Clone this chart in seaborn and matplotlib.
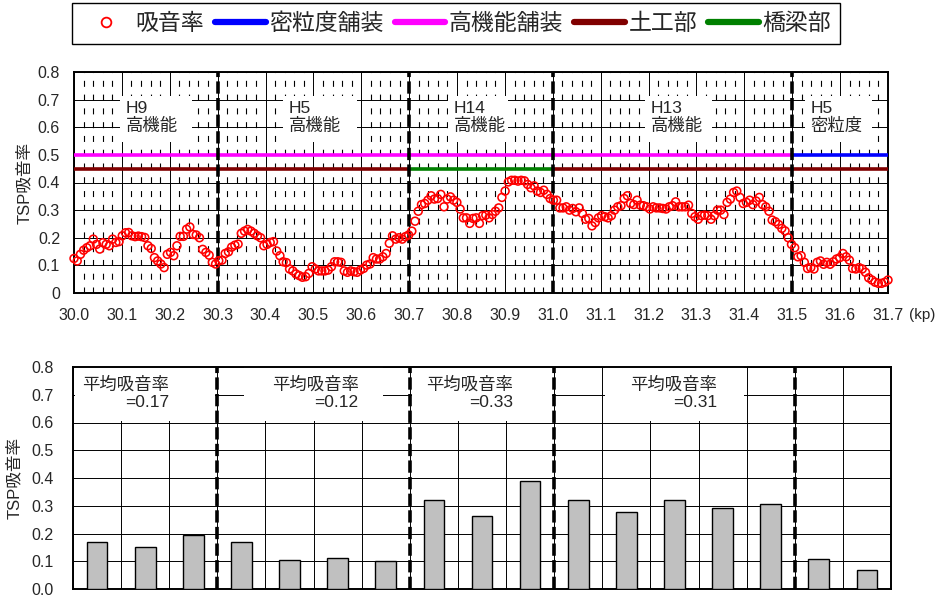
import numpy as np
import matplotlib
matplotlib.use("Agg")
import matplotlib.pyplot as plt
from matplotlib.lines import Line2D
from matplotlib.patches import Rectangle
import seaborn as sns

absorb_west = [  # kp 30.00 - 30.57
    0.125, 0.116, 0.140, 0.155, 0.164, 0.171, 0.195, 0.176, 0.159, 0.182,
    0.176, 0.171, 0.195, 0.183, 0.186, 0.207, 0.218, 0.219, 0.207, 0.204,
    0.206, 0.204, 0.201, 0.171, 0.161, 0.128, 0.116, 0.105, 0.092, 0.140,
    0.147, 0.135, 0.171, 0.205, 0.205, 0.231, 0.239, 0.212, 0.210, 0.200,
    0.158, 0.147, 0.137, 0.111, 0.105,
    0.117, 0.119, 0.143, 0.149, 0.166, 0.173, 0.177, 0.216, 0.224, 0.230,
    0.224, 0.216, 0.207, 0.200, 0.171, 0.176, 0.183, 0.186, 0.152, 0.135,
    0.113, 0.110, 0.087, 0.080, 0.069, 0.063, 0.057, 0.059, 0.071, 0.095,
    0.087, 0.080, 0.080, 0.080, 0.083, 0.095, 0.113, 0.113, 0.111,
]
absorb_mid = [  # kp 30.57 - 31.13
    0.080, 0.075, 0.080, 0.077, 0.075, 0.083, 0.089, 0.101, 0.105, 0.128,
    0.123, 0.123, 0.131, 0.143, 0.180, 0.207, 0.195, 0.200,
    0.195, 0.204, 0.210, 0.224, 0.260, 0.296, 0.320, 0.324, 0.336, 0.352,
    0.340, 0.342, 0.357, 0.312, 0.340, 0.348, 0.336, 0.328, 0.304, 0.272,
    0.272, 0.252, 0.270, 0.272, 0.252, 0.280, 0.282, 0.272, 0.284, 0.296,
    0.308, 0.346, 0.369, 0.402, 0.408, 0.408, 0.405, 0.408, 0.406, 0.393,
    0.381, 0.388, 0.369, 0.364, 0.372, 0.357, 0.342,
    0.336, 0.336, 0.308, 0.308, 0.312, 0.300, 0.306, 0.294, 0.308, 0.288,
    0.267, 0.270, 0.243, 0.255, 0.272, 0.280, 0.276, 0.272, 0.280,
]
absorb_east = [  # kp 31.13 - 31.70
    0.300, 0.312, 0.316, 0.342, 0.352, 0.324, 0.320, 0.336, 0.318, 0.316,
    0.312, 0.304, 0.312, 0.308, 0.308, 0.306, 0.304, 0.312, 0.316, 0.330,
    0.312, 0.312, 0.312, 0.318, 0.288, 0.276, 0.267, 0.280, 0.282, 0.280,
    0.267, 0.280, 0.300, 0.300, 0.284, 0.328, 0.340, 0.364, 0.369, 0.346,
    0.324, 0.328, 0.336, 0.320, 0.333, 0.346, 0.320, 0.312, 0.296, 0.264,
    0.258, 0.248, 0.234, 0.225, 0.200, 0.176,
    0.164, 0.131, 0.135, 0.111, 0.089, 0.092, 0.087, 0.111, 0.116, 0.104,
    0.111, 0.104, 0.113, 0.123, 0.128, 0.143, 0.131, 0.119, 0.089, 0.087,
    0.092, 0.087, 0.075, 0.055, 0.047, 0.039, 0.035, 0.035, 0.039, 0.047,
]

kp_start, kp_end = 30.0, 31.7

# target levels per pavement / structure type
high_perf_level = 0.50
dense_level = 0.50
earth_level = 0.45
bridge_level = 0.45
high_perf_span = (30.0, 31.5)
dense_span = (31.5, 31.7)
earth_spans = [(30.0, 30.7), (31.0, 31.7)]
bridge_spans = [(30.7, 31.0)]

section_breaks = [30.3, 30.7, 31.0, 31.5]
section_names = ["H9\n高機能", "H5\n高機能", "H14\n高機能", "H13\n高機能", "H5\n密粒度"]

# 100 m averages
bar_kp = ["30.0", "30.1", "30.2", "30.3", "30.4", "30.5", "30.6", "30.7", "30.8",
          "30.9", "31.0", "31.1", "31.2", "31.3", "31.4", "31.5", "31.6"]
bar_values = [0.170, 0.150, 0.195, 0.170, 0.103, 0.113, 0.100, 0.321, 0.264,
              0.388, 0.321, 0.279, 0.321, 0.292, 0.308, 0.108, 0.070]
avg_texts = ["平均吸音率\n=0.17", "平均吸音率\n=0.12", "平均吸音率\n=0.33", "平均吸音率\n=0.31"]

top_yticklabels = ["0", "0.1", "0.2", "0.3", "0.4", "0.5", "0.6", "0.7", "0.8"]
bot_yticklabels = ["0.0", "0.1", "0.2", "0.3", "0.4", "0.5", "0.6", "0.7", "0.8"]

# colours
MAGENTA, BLUE, MAROON, GREEN = "#ff00ff", "#0000ff", "#800000", "#008000"

sns.set_style("white")
FONTS = ["Liberation Sans", "Noto Sans CJK JP", "DejaVu Sans"]
plt.rcParams["font.family"] = FONTS

W, H = 951, 605
fig = plt.figure(figsize=(W / 100, H / 100), dpi=100)

# ---------------- top: absorption along the road ----------------
ax1 = fig.add_axes([74 / W, 1 - 293 / H, 814 / W, 221 / H])
absorb = absorb_west + absorb_mid + absorb_east
kp = np.linspace(kp_start, kp_end, len(absorb))

ax1.set_axisbelow(True)
ax1.set_xlim(kp_start, kp_end)
ax1.set_ylim(0, 0.8)
ax1.set_xticks(np.round(np.arange(30.0, 31.71, 0.1), 2))
ax1.set_xticklabels([f"{v:.1f}" for v in np.arange(30.0, 31.71, 0.1)])
ax1.set_xticks(np.round(np.arange(30.0, 31.71, 0.02), 2), minor=True)
ax1.set_yticks(np.arange(0, 0.81, 0.1))
ax1.set_yticklabels(top_yticklabels)
ax1.grid(True, which="major", color="black", lw=0.7)
ax1.grid(True, which="minor", axis="x", color="black", lw=0.8, linestyle=(0, (5.4, 7.0)))
ax1.tick_params(which="both", length=0, labelsize=11.5)
ax1.tick_params(axis="x", pad=11)
ax1.tick_params(axis="y", pad=10)

# white label boxes hide the grid
top_boxes = [(30.096, 30.246), (30.436, 30.59), (30.781, 30.906), (31.192, 31.332), (31.526, 31.666)]
for (x0, x1), name in zip(top_boxes, section_names):
    ax1.add_patch(Rectangle((x0, 0.548), x1 - x0, 0.164, fc="white", ec="none", zorder=1))
    ax1.text(x0 + 0.012, 0.635, name, ha="left", va="center", fontsize=12.5,
             linespacing=1.1, zorder=2)

ax1.plot(high_perf_span, [high_perf_level] * 2, color=MAGENTA, lw=2.6, zorder=3, solid_capstyle="butt")
ax1.plot(dense_span, [dense_level] * 2, color=BLUE, lw=2.6, zorder=3, solid_capstyle="butt")
for x0, x1 in earth_spans:
    ax1.plot([x0, x1], [earth_level] * 2, color=MAROON, lw=2.6, zorder=3, solid_capstyle="butt")
for x0, x1 in bridge_spans:
    ax1.plot([x0, x1], [bridge_level] * 2, color=GREEN, lw=2.6, zorder=3, solid_capstyle="butt")

for xb in section_breaks:
    ax1.axvline(xb, color="black", lw=2.6, linestyle=(0, (3.4, 1.2)), zorder=4)

sns.scatterplot(x=kp, y=absorb, ax=ax1, marker="o", s=32, color="red",
                facecolor="none", edgecolor="red", linewidth=1.15,
                zorder=6, clip_on=False, legend=False)

ax1.set_ylabel("TSP吸音率", fontsize=12)
ax1.yaxis.set_label_coords((32 - 74) / 814, 0.5)
ax1.text((909 - 74) / 814, -0.10, "(kp)", transform=ax1.transAxes,
         ha="left", va="center", fontsize=11)
for sp in ax1.spines.values():
    sp.set_color("black")
    sp.set_linewidth(1.4)

# ---------------- bottom: 100 m averages ----------------
ax2 = fig.add_axes([73 / W, 1 - 589 / H, 818 / W, 222 / H])
sns.barplot(x=bar_kp, y=bar_values, ax=ax2, color="#c0c0c0", saturation=1,
            edgecolor="black", linewidth=1.0, width=0.43, zorder=3)
ax2.set_axisbelow(True)
ax2.set_xlim(-0.5, len(bar_kp) - 0.5)
ax2.set_ylim(0, 0.8)
ax2.set_xticks(np.arange(-0.5, len(bar_kp), 1))
ax2.set_xticklabels([])
ax2.set_yticks(np.arange(0, 0.81, 0.1))
ax2.set_yticklabels(bot_yticklabels)
ax2.grid(True, color="black", lw=0.7)
ax2.tick_params(length=0, labelsize=11.5)
ax2.tick_params(axis="y", pad=14)
ax2.set_xlabel("")

seg_centres = [1.0, 4.5, 8.0, 12.0]
text_centres = [0.589, 4.53, 7.75, 11.98]
for c, tc, t in zip(seg_centres, text_centres, avg_texts):
    ax2.add_patch(Rectangle((c - 1.45, 0.604), 2.9, 0.196, fc="white", ec="none", zorder=1))
    ax2.text(tc, 0.706, t, ha="center", va="center", multialignment="right",
             fontsize=12.5, linespacing=1.15, zorder=2)

for xb in [2.5, 6.5, 9.5, 14.5]:
    ax2.axvline(xb, color="black", lw=2.6, linestyle=(0, (3.4, 1.2)), zorder=4)

ax2.set_ylabel("TSP吸音率", fontsize=12)
ax2.yaxis.set_label_coords((22 - 73) / 818, 0.5)
for sp in ax2.spines.values():
    sp.set_color("black")
    sp.set_linewidth(1.4)

# ---------------- legend ----------------
handles = [
    Line2D([], [], marker="o", ls="none", mfc="none", mec="red", ms=7, mew=1.3),
    Line2D([], [], color=BLUE, lw=4.5),
    Line2D([], [], color=MAGENTA, lw=4.5),
    Line2D([], [], color=MAROON, lw=4.5),
    Line2D([], [], color=GREEN, lw=4.5),
]
labels = ["吸音率", "密粒度舗装", "高機能舗装", "土工部", "橋梁部"]
leg = fig.legend(handles, labels, loc="upper left", bbox_to_anchor=(72 / W, 1 - 3 / H),
                 ncol=5, frameon=True, fancybox=False, edgecolor="black", framealpha=1,
                 borderaxespad=0, handlelength=2.2, handletextpad=0.15,
                 columnspacing=0.5, borderpad=0.4,
                 prop=dict(family=FONTS, size=16.5))
leg.get_frame().set_linewidth(1.0)

fig.savefig("out.png", dpi=100)
